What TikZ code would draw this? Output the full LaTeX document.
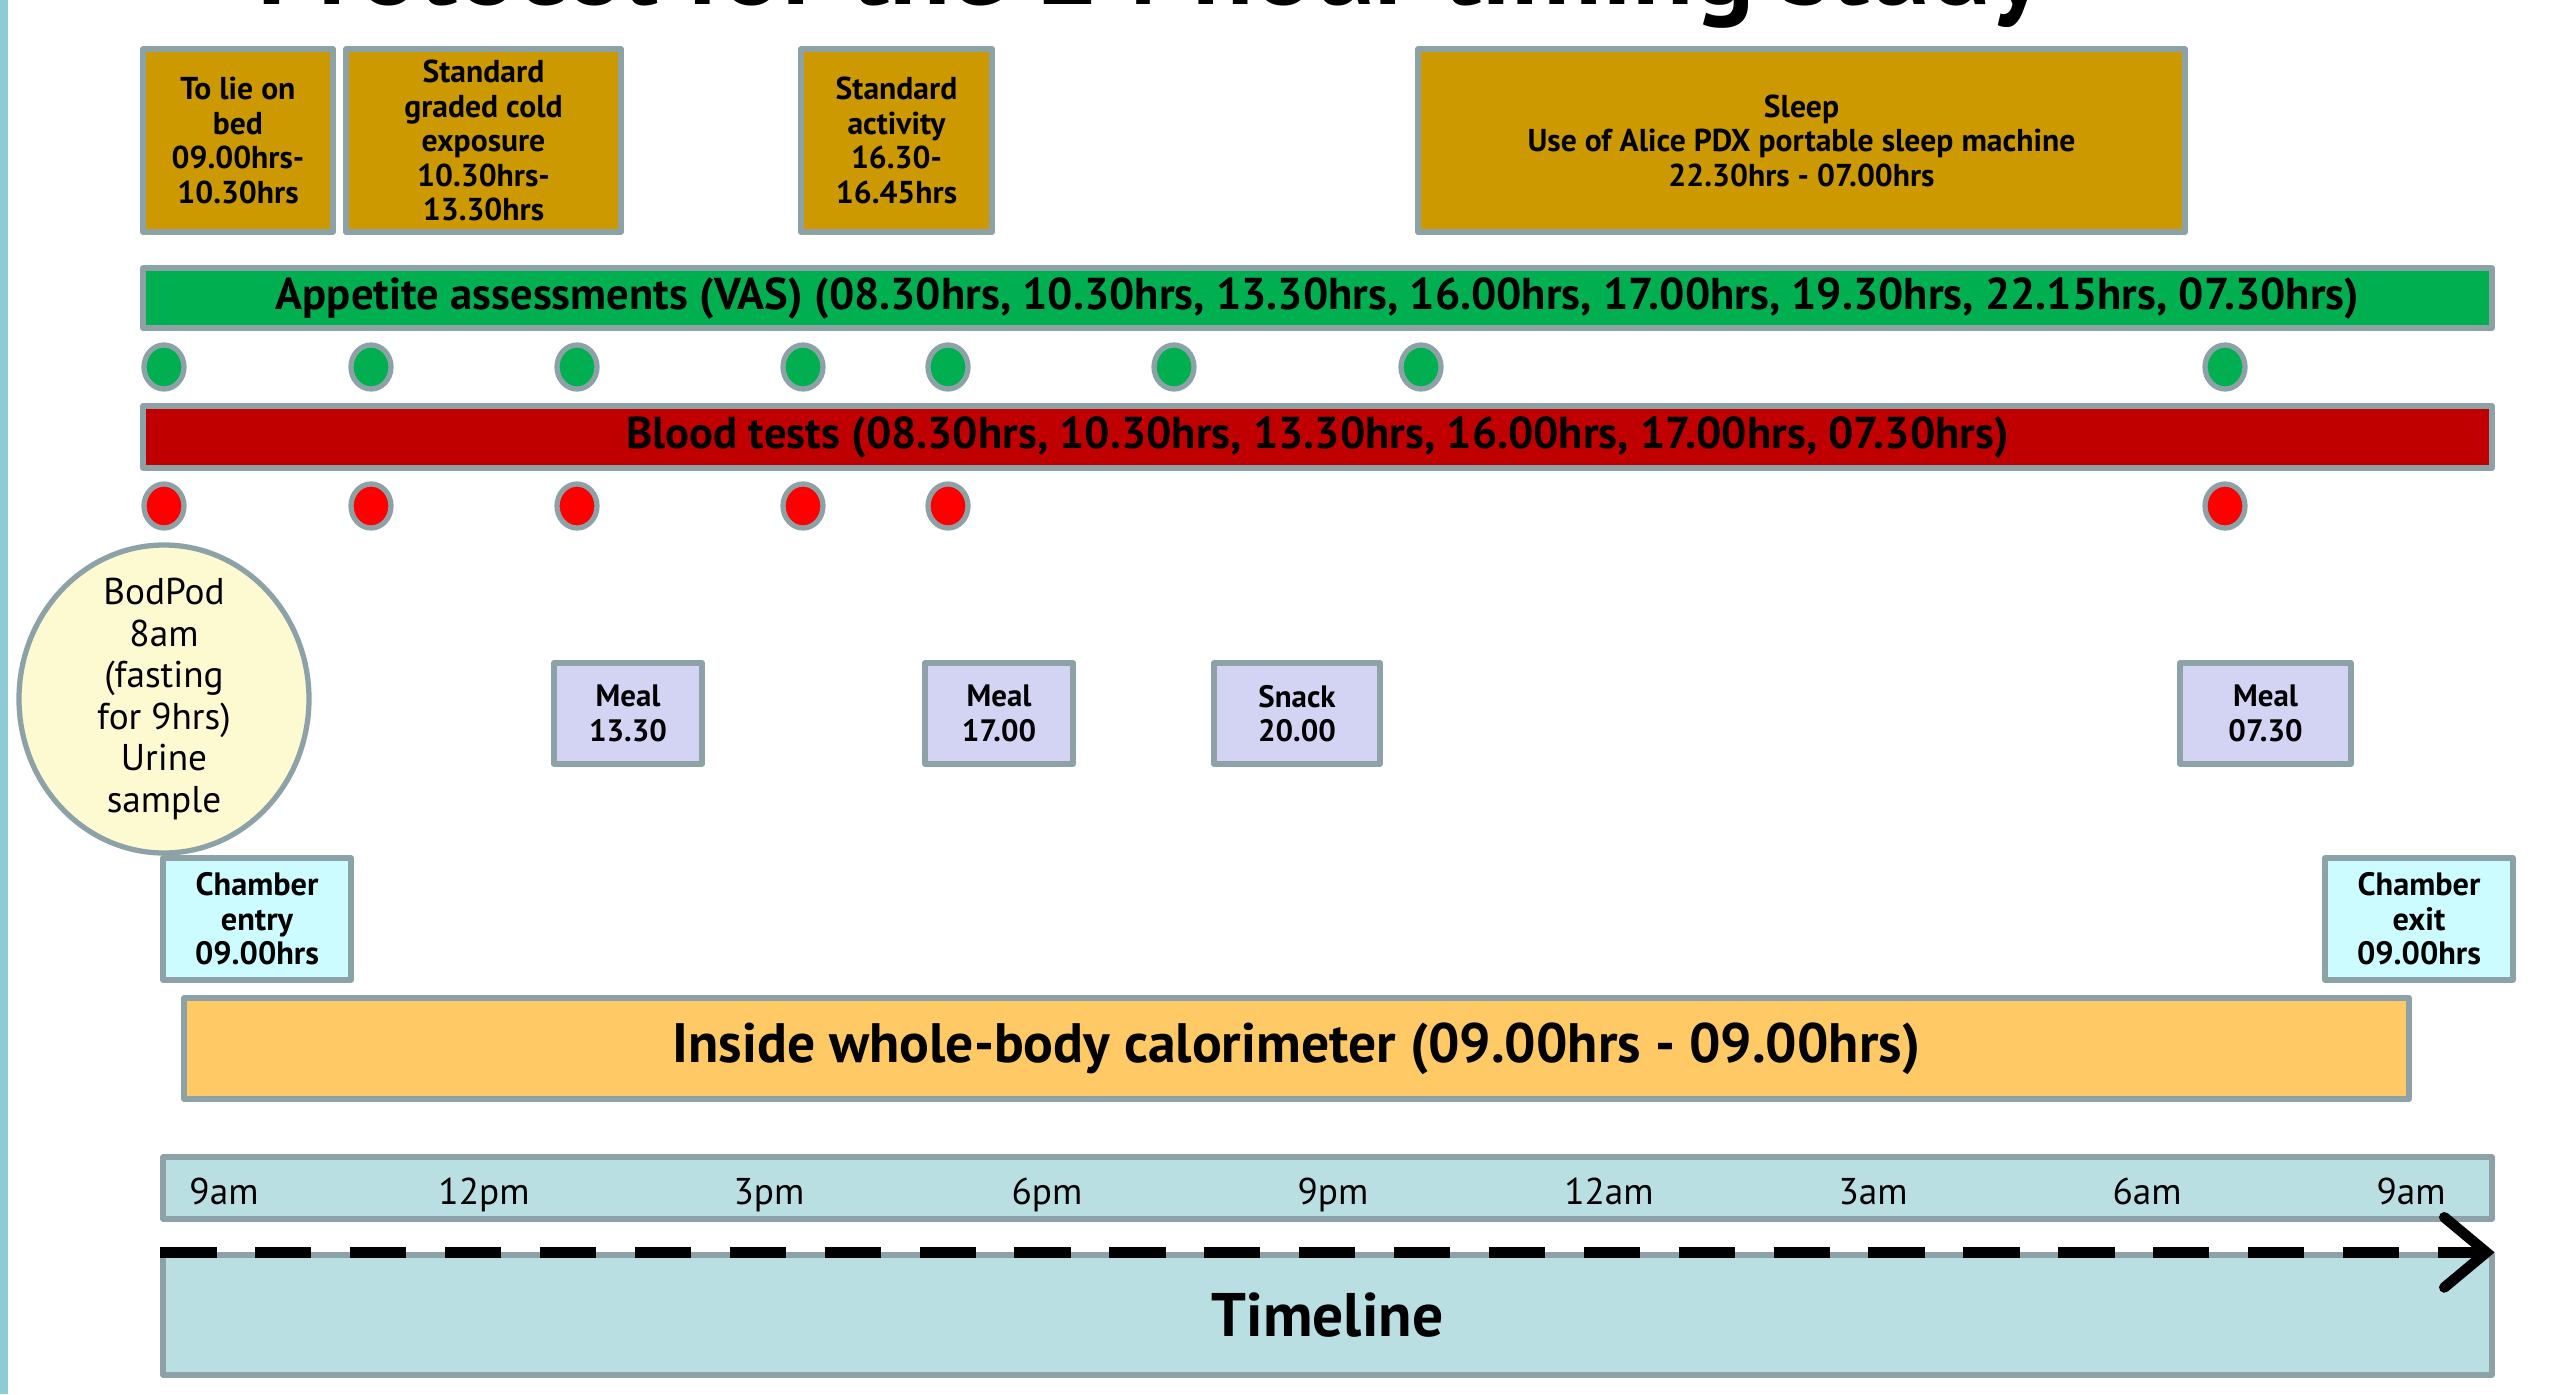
\documentclass[tikz,border=0pt]{standalone}
\usepackage{fontspec}
\setmainfont{PT Sans}
\usepackage{xcolor}
\usetikzlibrary{arrows.meta,shapes.geometric}

\definecolor{edgegray}{HTML}{8DA2A7}
\definecolor{sidebar}{HTML}{8FCBD5}
\definecolor{gold}{HTML}{CC9900}
\definecolor{vasgreen}{HTML}{00B050}
\definecolor{bloodred}{HTML}{C00000}
\definecolor{dotred}{HTML}{FF0000}
\definecolor{podyellow}{HTML}{FDFAD2}
\definecolor{meallilac}{HTML}{D3D3F3}
\definecolor{chambercyan}{HTML}{CCFCFF}
\definecolor{calorange}{HTML}{FFC966}
\definecolor{timeblue}{HTML}{B9DFE3}

\begin{document}
\begin{tikzpicture}[x=1cm, y=-1cm, line join=round,
  edge/.style={draw=edgegray, line width=1.5pt, inner sep=0pt, align=center},
  actbox/.style={edge, fill=gold, font=\bfseries\fontsize{9}{9.8}\selectfont},
  bar/.style={edge, minimum width=23.49cm, font=\bfseries\fontsize{12.7}{14}\selectfont},
  dotnode/.style={ellipse, draw=edgegray, line width=1.5pt, minimum width=0.40cm, minimum height=0.44cm, inner sep=0pt},
  mealbox/.style={edge, fill=meallilac, minimum height=1.01cm, font=\bfseries\fontsize{8.8}{9.8}\selectfont},
  chamberbox/.style={edge, fill=chambercyan, minimum width=1.88cm, minimum height=1.22cm, font=\bfseries\fontsize{9.2}{9.8}\selectfont},
  hour/.style={anchor=base, inner sep=0pt, font=\fontsize{10.6}{13}\selectfont}]
  \useasboundingbox (0,0) rectangle (25.49,13.94);
  \fill[sidebar] (0,0) rectangle (0.08,13.94);
  % title, cut by the page edge
  \node[anchor=base, font=\bfseries\fontsize{32}{36}\selectfont] (title) at (11.51,0.04) {Protocol for the 24 hour timing study};
  % activities
  \node[actbox, minimum width=1.90cm, minimum height=1.83cm] (lie) at (2.38,1.405) {To lie on\\bed\\09.00hrs-\\10.30hrs};
  \node[actbox, minimum width=2.75cm, minimum height=1.83cm] (cold) at (4.835,1.405) {Standard\\graded cold\\exposure\\10.30hrs-\\13.30hrs};
  \node[actbox, minimum width=1.91cm, minimum height=1.83cm] (act) at (8.965,1.405) {Standard\\activity\\16.30-\\16.45hrs};
  \node[actbox, minimum width=7.67cm, minimum height=1.83cm] (sleep) at (18.015,1.405) {Sleep\\Use of Alice PDX portable sleep machine\\22.30hrs - 07.00hrs};
  % assessments
  \node[bar, fill=vasgreen, minimum height=0.60cm] (vas) at (13.175,2.98) {Appetite assessments (VAS) (08.30hrs, 10.30hrs, 13.30hrs, 16.00hrs, 17.00hrs, 19.30hrs, 22.15hrs, 07.30hrs)};
  \node[dotnode, fill=vasgreen] (g1) at (1.64,3.67) {};
  \node[dotnode, fill=vasgreen] (g2) at (3.71,3.67) {};
  \node[dotnode, fill=vasgreen] (g3) at (5.77,3.67) {};
  \node[dotnode, fill=vasgreen] (g4) at (8.03,3.67) {};
  \node[dotnode, fill=vasgreen] (g5) at (9.48,3.67) {};
  \node[dotnode, fill=vasgreen] (g6) at (11.74,3.67) {};
  \node[dotnode, fill=vasgreen] (g7) at (14.21,3.67) {};
  \node[dotnode, fill=vasgreen] (g8) at (22.25,3.67) {};
  \node[bar, fill=bloodred, minimum height=0.62cm] (blood) at (13.175,4.37) {Blood tests (08.30hrs, 10.30hrs, 13.30hrs, 16.00hrs, 17.00hrs, 07.30hrs)};
  \node[dotnode, fill=dotred] (r1) at (1.64,5.06) {};
  \node[dotnode, fill=dotred] (r2) at (3.71,5.06) {};
  \node[dotnode, fill=dotred] (r3) at (5.77,5.06) {};
  \node[dotnode, fill=dotred] (r4) at (8.03,5.06) {};
  \node[dotnode, fill=dotred] (r5) at (9.48,5.06) {};
  \node[dotnode, fill=dotred] (r6) at (22.25,5.06) {};
  % body composition and meals
  \node[ellipse, edge, fill=podyellow, minimum width=2.90cm, minimum height=3.08cm] (pod) at (1.64,6.99) {};
  \node[align=center, inner sep=0pt, font=\fontsize{10.6}{11.8}\selectfont] (podtext) at (pod.center) {BodPod\\8am\\(fasting\\for 9hrs)\\Urine\\sample};
  \node[mealbox, minimum width=1.48cm] (m1) at (6.28,7.135) {Meal\\13.30};
  \node[mealbox, minimum width=1.48cm] (m2) at (9.99,7.135) {Meal\\17.00};
  \node[mealbox, minimum width=1.66cm] (snack) at (12.97,7.135) {Snack\\20.00};
  \node[mealbox, minimum width=1.71cm] (m3) at (22.655,7.135) {Meal\\07.30};
  \node[chamberbox] (entry) at (2.57,9.19) {Chamber\\entry\\09.00hrs};
  \node[chamberbox] (exit) at (24.19,9.19) {Chamber\\exit\\09.00hrs};
  \node[edge, fill=calorange, minimum width=22.25cm, minimum height=1.01cm, font=\bfseries\fontsize{15.8}{18}\selectfont] (cal) at (12.965,10.485) {Inside whole-body calorimeter (09.00hrs - 09.00hrs)};
  % timeline
  \node[edge, fill=timeblue, minimum width=23.29cm, minimum height=0.62cm] (hours) at (13.275,11.88) {};
  \node[hour] (h1) at (2.24,12.04) {9am};
  \node[hour] (h2) at (4.84,12.04) {12pm};
  \node[hour] (h3) at (7.69,12.04) {3pm};
  \node[hour] (h4) at (10.47,12.04) {6pm};
  \node[hour] (h5) at (13.33,12.04) {9pm};
  \node[hour] (h6) at (16.09,12.04) {12am};
  \node[hour] (h7) at (18.73,12.04) {3am};
  \node[hour] (h8) at (21.47,12.04) {6am};
  \node[hour] (h9) at (24.11,12.04) {9am};
  \node[edge, fill=timeblue, minimum width=23.29cm, minimum height=1.20cm, font=\bfseries\fontsize{17.5}{20}\selectfont] (tl) at (13.275,13.15) {Timeline};
  \draw[line width=3pt, dash pattern=on 16pt off 11pt, -{Straight Barb[length=12pt, width=20pt, line width=3pt, line cap=round]}] (tl.north west) -- (tl.north east);
\end{tikzpicture}
\end{document}
